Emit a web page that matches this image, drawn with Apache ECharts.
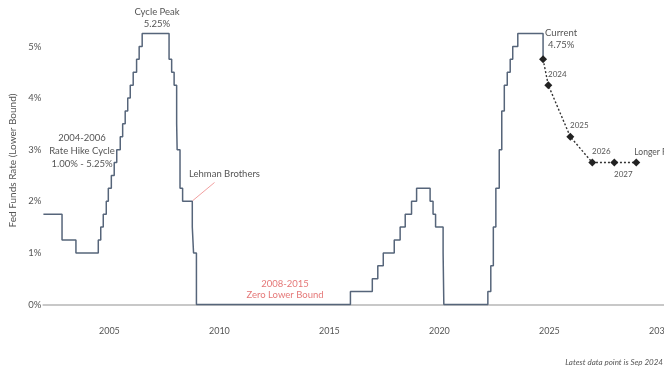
<!DOCTYPE html>
<html><head><meta charset="utf-8">
<script src="https://cdn.jsdelivr.net/npm/echarts@6/dist/echarts.min.js"></script>
<style>html,body{margin:0;padding:0;background:#fff}#c{width:664px;height:369px}</style>
</head><body><div id="c"></div>
<script>
// Fed funds lower bound: change dates (decimal years) and new level (%)
var rateDates = [2002.000, 2002.847, 2003.479, 2004.495, 2004.607, 2004.721, 2004.858, 2004.951,
  2005.088, 2005.219, 2005.334, 2005.493, 2005.603, 2005.718, 2005.833, 2005.948,
  2006.082, 2006.236, 2006.353, 2006.490, 2007.712, 2007.830, 2007.942,
  2008.057, 2008.079, 2008.210, 2008.328, 2008.768, 2008.825, 2008.956,
  2015.956, 2016.951, 2017.200, 2017.449, 2017.948, 2018.216, 2018.447, 2018.734, 2018.964,
  2019.578, 2019.712, 2019.827, 2020.169, 2020.202,
  2022.203, 2022.337, 2022.452, 2022.567, 2022.721, 2022.836, 2022.951,
  2023.085, 2023.219, 2023.334, 2023.564, 2024.713];
var rateValues = [1.75, 1.25, 1.00, 1.25, 1.50, 1.75, 2.00, 2.25,
  2.50, 2.75, 3.00, 3.25, 3.50, 3.75, 4.00, 4.25,
  4.50, 4.75, 5.00, 5.25, 4.75, 4.50, 4.25,
  3.50, 3.00, 2.25, 2.00, 1.50, 1.00, 0.00,
  0.25, 0.50, 0.75, 1.00, 1.25, 1.50, 1.75, 2.00, 2.25,
  2.00, 1.75, 1.50, 1.00, 0.00,
  0.25, 0.75, 1.50, 2.25, 3.00, 3.75, 4.25,
  4.50, 4.75, 5.00, 5.25, 4.75];
// Current point and projections (lower bound)
var currentDate = 2024.713, currentValue = 4.75;
var projLabels = ['2024', '2025', '2026', '2027', 'Longer Run'];
var projDates = [2024.95, 2025.95, 2026.95, 2027.95, 2028.95];
var projValues = [4.25, 3.25, 2.75, 2.75, 2.75];
var xTicks = [2005, 2010, 2015, 2020, 2025, 2030];
var yTicks = [0, 1, 2, 3, 4, 5];

var FONT = 'Lato';
var TXT = '#555';
var rateData = rateDates.map(function (d, i) { return [d, rateValues[i]]; });
var projData = [{ value: [currentDate, currentValue],
  label: { show: true, position: 'top', distance: 4, offset: [18, 0], formatter: 'Current\n4.75%',
    fontSize: 9.5, lineHeight: 12, color: TXT, fontFamily: FONT, align: 'center' } }];
projDates.forEach(function (d, i) {
  var lab;
  if (projLabels[i] === 'Longer Run') {
    lab = { show: true, position: [2, -6.4], align: 'left', verticalAlign: 'middle',
      formatter: projLabels[i], fontSize: 8.5, overflow: 'none' };
  } else if (projLabels[i] === '2027') {
    lab = { show: true, position: 'bottom', distance: 4, offset: [9, 0], formatter: projLabels[i], fontSize: 8 };
  } else {
    lab = { show: true, position: 'top', distance: 4, offset: [9, 1], formatter: projLabels[i], fontSize: 8 };
  }
  lab.color = TXT; lab.fontFamily = FONT;
  projData.push({ value: [d, projValues[i]], label: lab });
});

var chart = echarts.init(document.getElementById('c'), null, { renderer: 'canvas' });
chart.setOption({
  animation: false,
  backgroundColor: '#fff',
  textStyle: { fontFamily: FONT },
  grid: { left: 43.4, top: 0, right: 0, height: 321, containLabel: false, outerBoundsMode: 'none' },
  xAxis: {
    type: 'value', min: 2002, max: 2030.21,
    axisLine: { show: true, lineStyle: { color: '#c8c8c8', width: 2 } },
    axisTick: { show: false },
    splitLine: { show: false },
    axisLabel: { customValues: xTicks, color: TXT, fontSize: 9, fontFamily: FONT, margin: 6,
      showMaxLabel: true, hideOverlap: false, formatter: function (v) { return String(v); } }
  },
  yAxis: {
    type: 'value', min: -0.32, max: 5.9,
    name: 'Fed Funds Rate (Lower Bound)', nameLocation: 'middle', nameRotate: 90, nameGap: 25,
    nameTextStyle: { color: TXT, fontSize: 10, fontFamily: FONT },
    axisLine: { show: false }, axisTick: { show: false }, splitLine: { show: false },
    axisLabel: { customValues: yTicks, color: TXT, fontSize: 9.5, fontFamily: FONT, margin: 2,
      formatter: function (v) { return v + '%'; } }
  },
  series: [
    { type: 'line', step: 'end', data: rateData, symbol: 'none', silent: true,
      lineStyle: { color: '#56657a', width: 1.5 }, z: 2 },
    { type: 'line', data: projData, symbol: 'diamond', symbolSize: 8, silent: true,
      itemStyle: { color: '#222' },
      lineStyle: { color: '#333', width: 1.4, type: [2, 2] }, z: 3 }
  ],
  graphic: [
    { type: 'text', x: 157, y: 6, style: { text: 'Cycle Peak\n5.25%', align: 'center', fill: TXT,
      font: '9.5px ' + FONT, lineHeight: 12 } },
    { type: 'text', x: 82, y: 131, style: { text: '2004-2006\nRate Hike Cycle\n1.00% - 5.25%', align: 'center',
      fill: TXT, font: '9.5px ' + FONT, lineHeight: 13 } },
    { type: 'text', x: 189, y: 169, style: { text: 'Lehman Brothers', align: 'left', fill: TXT,
      font: '9.5px ' + FONT } },
    { type: 'line', shape: { x1: 192.5, y1: 200.8, x2: 214.5, y2: 182.5 },
      style: { stroke: '#f2a0a0', lineWidth: 1 } },
    { type: 'text', x: 285, y: 278, style: { text: '2008-2015\nZero Lower Bound', align: 'center',
      fill: '#e57878', font: '9.5px ' + FONT, lineHeight: 11.5 } },
    { type: 'text', x: 663, y: 358, style: { text: 'Latest data point is Sep 2024', align: 'right',
      fill: TXT, font: 'italic 8px ' + FONT } }
  ]
});
</script></body></html>
